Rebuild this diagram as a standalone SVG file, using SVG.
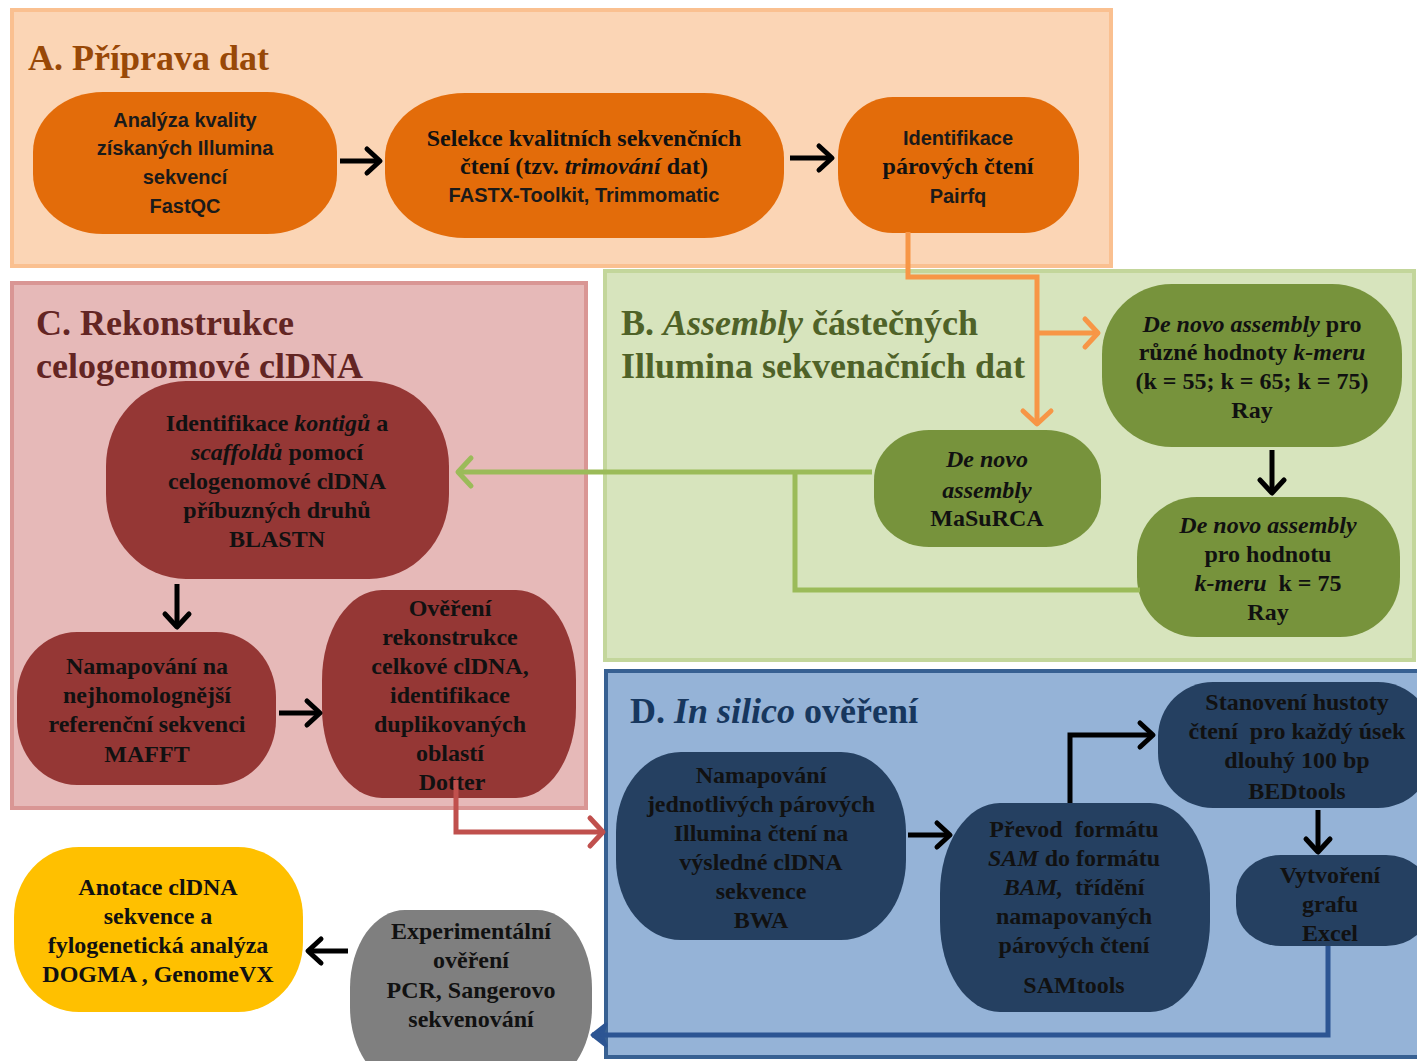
<svg xmlns="http://www.w3.org/2000/svg" width="1417" height="1061" viewBox="0 0 1417 1061">
<style>
.ttl{font-family:"Liberation Serif",serif;font-weight:bold;font-size:36px}
.s{font-family:"Liberation Serif",serif;font-weight:bold;font-size:24px;fill:#111;text-anchor:middle}
.a{font-family:"Liberation Sans",sans-serif;font-weight:bold;font-size:20px;fill:#1a1a1a;text-anchor:middle}
.i{font-style:italic}
.con{fill:none;stroke-linejoin:miter}
</style>
<defs>
<marker id="hb" viewBox="0 0 20 30" refX="16" refY="15" markerWidth="20" markerHeight="30" orient="auto" markerUnits="userSpaceOnUse" overflow="visible"><path d="M3,3 L16,15 L3,27" fill="none" stroke="#000" stroke-width="5" stroke-linecap="round" stroke-linejoin="round"/></marker>
<marker id="ho" viewBox="0 0 20 34" refX="16" refY="17" markerWidth="20" markerHeight="34" orient="auto" markerUnits="userSpaceOnUse" overflow="visible"><path d="M3,3 L16,17 L3,31" fill="none" stroke="#F79646" stroke-width="5" stroke-linecap="round" stroke-linejoin="round"/></marker>
<marker id="hg" viewBox="0 0 20 34" refX="16" refY="17" markerWidth="20" markerHeight="34" orient="auto" markerUnits="userSpaceOnUse" overflow="visible"><path d="M3,3 L16,17 L3,31" fill="none" stroke="#9BBB59" stroke-width="5" stroke-linecap="round" stroke-linejoin="round"/></marker>
<marker id="hr" viewBox="0 0 20 34" refX="16" refY="17" markerWidth="20" markerHeight="34" orient="auto" markerUnits="userSpaceOnUse" overflow="visible"><path d="M3,3 L16,17 L3,31" fill="none" stroke="#C0504D" stroke-width="5" stroke-linecap="round" stroke-linejoin="round"/></marker>
<marker id="hbl" viewBox="0 0 20 30" refX="17" refY="15" markerWidth="20" markerHeight="30" orient="auto" markerUnits="userSpaceOnUse" overflow="visible"><path d="M3,4 L17,15 L3,26 L7,15 Z" fill="#2C5593" stroke="#2C5593" stroke-width="3" stroke-linejoin="round"/></marker>
</defs>

<g id="panels">
<rect id="panel-A" x="12" y="10" width="1099" height="256" fill="#FBD5B5" stroke="#FAC090" stroke-width="4"/>
<rect id="panel-B" x="605" y="271" width="809" height="389" fill="#D7E4BD" stroke="#C3D69B" stroke-width="4"/>
<rect id="panel-C" x="12" y="283" width="574" height="525" fill="#E6B9B8" stroke="#D99694" stroke-width="4"/>
<rect id="panel-D" x="606" y="671" width="820" height="386" fill="#95B3D7" stroke="#376092" stroke-width="4"/>
<text class="ttl" x="28" y="70" fill="#984807">A. Příprava dat</text>
<text class="ttl" x="621" y="335" fill="#4F6228">B. <tspan class="i">Assembly</tspan> částečných</text>
<text class="ttl" x="621" y="378" fill="#4F6228">Illumina sekvenačních dat</text>
<text class="ttl" x="36" y="335" fill="#632523">C. Rekonstrukce</text>
<text class="ttl" x="36" y="378" fill="#632523">celogenomové clDNA</text>
<text class="ttl" x="630" y="723" fill="#17375E">D. <tspan class="i">In silico</tspan> ověření</text>
</g>

<g id="A1"><rect x="33" y="92" width="304" height="142" rx="70" ry="60" fill="#E36C0A"/>
<text class="a" x="185" y="127">Analýza kvality</text><text class="a" x="185" y="155">získaných Illumina</text><text class="a" x="185" y="184">sekvencí</text><text class="a" x="185" y="213">FastQC</text></g>

<g id="A2"><rect x="385" y="93" width="399" height="145" rx="80" ry="65" fill="#E36C0A"/>
<text class="s" x="584" y="146">Selekce kvalitních sekvenčních</text><text class="s" x="584" y="174">čtení (tzv. <tspan class="i">trimování</tspan> dat)</text><text class="a" x="584" y="202">FASTX-Toolkit, Trimmomatic</text></g>

<g id="A3"><rect x="838" y="97" width="241" height="136" rx="55" ry="60" fill="#E36C0A"/>
<text class="a" x="958" y="145">Identifikace</text><text class="s" x="958" y="174">párových čtení</text><text class="a" x="958" y="203">Pairfq</text></g>

<g id="B1"><rect x="1102" y="284" width="300" height="163" rx="70" ry="70" fill="#77933C"/>
<text class="s" x="1252" y="332"><tspan class="i">De novo assembly</tspan> pro</text><text class="s" x="1252" y="360">různé hodnoty <tspan class="i">k-meru</tspan></text><text class="s" x="1252" y="389">(k = 55; k = 65; k = 75)</text><text class="s" x="1252" y="418">Ray</text></g>

<g id="B2"><rect x="874" y="430" width="227" height="117" rx="55" ry="50" fill="#77933C"/>
<text class="s i" x="987" y="467">De novo</text><text class="s i" x="987" y="498">assembly</text><text class="s" x="987" y="526">MaSuRCA</text></g>

<g id="B3"><rect x="1137" y="497" width="263" height="140" rx="60" ry="60" fill="#77933C"/>
<text class="s i" x="1268" y="533">De novo assembly</text><text class="s" x="1268" y="562">pro hodnotu</text><text class="s" x="1268" y="591" xml:space="preserve"><tspan class="i">k-meru</tspan>  k = 75</text><text class="s" x="1268" y="620">Ray</text></g>

<g id="C1"><rect x="106" y="381" width="343" height="198" rx="80" ry="85" fill="#953735"/>
<text class="s" x="277" y="431">Identifikace <tspan class="i">kontigů</tspan> a</text><text class="s" x="277" y="460"><tspan class="i">scaffoldů</tspan> pomocí</text><text class="s" x="277" y="489">celogenomové clDNA</text><text class="s" x="277" y="518">příbuzných druhů</text><text class="s" x="277" y="547">BLASTN</text></g>

<g id="C2"><rect x="17" y="632" width="259" height="153" rx="60" ry="65" fill="#953735"/>
<text class="s" x="147" y="674">Namapování na</text><text class="s" x="147" y="703">nejhomolognější</text><text class="s" x="147" y="732">referenční sekvenci</text><text class="s" x="147" y="762">MAFFT</text></g>

<g id="C3"><rect x="322" y="590" width="254" height="208" rx="60" ry="90" fill="#953735"/>
<text class="s" x="450" y="616">Ověření</text><text class="s" x="450" y="645">rekonstrukce</text><text class="s" x="450" y="674">celkové clDNA,</text><text class="s" x="450" y="703">identifikace</text><text class="s" x="450" y="732">duplikovaných</text><text class="s" x="450" y="761">oblastí</text><text class="s" x="452" y="790">Dotter</text></g>

<g id="D1"><rect x="616" y="752" width="290" height="188" rx="65" ry="80" fill="#254061"/>
<text class="s" x="761" y="783">Namapování</text><text class="s" x="761" y="812">jednotlivých párových</text><text class="s" x="761" y="841">Illumina čtení na</text><text class="s" x="761" y="870">výsledné clDNA</text><text class="s" x="761" y="899">sekvence</text><text class="s" x="761" y="928">BWA</text></g>

<g id="D2"><rect x="940" y="803" width="270" height="209" rx="60" ry="90" fill="#254061"/>
<text class="s" x="1074" y="837" xml:space="preserve">Převod  formátu</text><text class="s" x="1074" y="866"><tspan class="i">SAM</tspan> do formátu</text><text class="s" x="1074" y="895" xml:space="preserve"><tspan class="i">BAM,</tspan>  třídění</text><text class="s" x="1074" y="924">namapovaných</text><text class="s" x="1074" y="953">párových čtení</text><text class="s" x="1074" y="993">SAMtools</text></g>

<g id="D3"><rect x="1158" y="682" width="275" height="126" rx="55" ry="55" fill="#254061"/>
<text class="s" x="1297" y="710">Stanovení hustoty</text><text class="s" x="1297" y="739" xml:space="preserve">čtení  pro každý úsek</text><text class="s" x="1297" y="768">dlouhý 100 bp</text><text class="s" x="1297" y="799">BEDtools</text></g>

<g id="D4"><rect x="1236" y="855" width="195" height="91" rx="45" ry="40" fill="#254061"/>
<text class="s" x="1330" y="883">Vytvoření</text><text class="s" x="1330" y="912">grafu</text><text class="s" x="1330" y="941">Excel</text></g>

<g id="E1"><rect x="14" y="847" width="289" height="165" rx="65" ry="70" fill="#FFC000"/>
<text class="s" x="158" y="895">Anotace clDNA</text><text class="s" x="158" y="924">sekvence a</text><text class="s" x="158" y="953">fylogenetická analýza</text><text class="s" x="158" y="982">DOGMA , GenomeVX</text></g>

<g id="E2"><rect x="350" y="910" width="242" height="175" rx="55" ry="78" fill="#7F7F7F"/>
<text class="s" x="471" y="939">Experimentální</text><text class="s" x="471" y="968">ověření</text><text class="s" x="471" y="998">PCR, Sangerovo</text><text class="s" x="471" y="1027">sekvenování</text></g>

<g id="connectors" class="con">
<path d="M340,161 H380" stroke="#000" stroke-width="5" marker-end="url(#hb)"/>
<path d="M790,158 H832" stroke="#000" stroke-width="5" marker-end="url(#hb)"/>
<path d="M1272,450 V493" stroke="#000" stroke-width="5" marker-end="url(#hb)"/>
<path d="M177,584 V627" stroke="#000" stroke-width="5" marker-end="url(#hb)"/>
<path d="M279,713 H320" stroke="#000" stroke-width="5" marker-end="url(#hb)"/>
<path d="M908,835 H950" stroke="#000" stroke-width="5" marker-end="url(#hb)"/>
<path d="M1070,803 V735 H1153" stroke="#000" stroke-width="5" marker-end="url(#hb)"/>
<path d="M1318,810 V852" stroke="#000" stroke-width="5" marker-end="url(#hb)"/>
<path d="M348,951 H308" stroke="#000" stroke-width="5" marker-end="url(#hb)"/>
<path d="M908,232 V277 H1037 V424" stroke="#F79646" stroke-width="5" marker-end="url(#ho)"/>
<path d="M1037,333 H1098" stroke="#F79646" stroke-width="5" marker-end="url(#ho)"/>
<path d="M872,472 H458" stroke="#9BBB59" stroke-width="5" marker-end="url(#hg)"/>
<path d="M1140,590 H795 V472" stroke="#9BBB59" stroke-width="5"/>
<path d="M456,780 V832 H603" stroke="#C0504D" stroke-width="5" marker-end="url(#hr)"/>
<path d="M1328,946 V1035 H592" stroke="#2C5593" stroke-width="5" marker-end="url(#hbl)"/>
</g>
</svg>
